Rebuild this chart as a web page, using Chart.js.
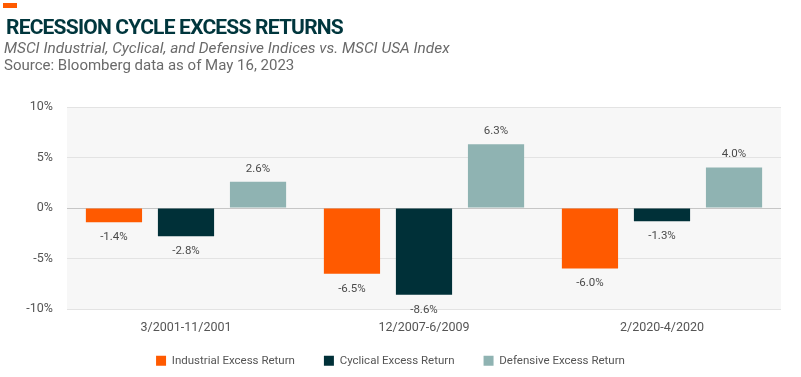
<!DOCTYPE html>
<html>
<head>
<meta charset="utf-8">
<script src="https://cdn.jsdelivr.net/npm/chart.js@4/dist/chart.umd.min.js"></script>
<style>
    body { margin: 0; background: #fff; font-family: Roboto, sans-serif; }
    #wrap { position: relative; width: 801px; height: 377px; overflow: hidden; }
    #mark { position: absolute; left: 3px; top: 3px; width: 14px; height: 5px; background: #ff5a00; }
    #title { position: absolute; left: 6px; top: 15px; font-size: 21px; font-weight: 700; color: #00363d; white-space: nowrap; letter-spacing: -0.8px; }
    #sub { position: absolute; left: 4px; top: 39px; font-size: 15.4px; font-style: italic; color: #6a6a6a; white-space: nowrap; }
    #src { position: absolute; left: 4px; top: 56px; font-size: 15px; color: #6a6a6a; white-space: nowrap; }
    canvas { position: absolute; left: 0; top: 0; }
</style>
</head>
<body>
<div id="wrap">
    <canvas id="chart" width="801" height="377"></canvas>
    <div id="mark"></div>
    <div id="title">RECESSION CYCLE EXCESS RETURNS</div>
    <div id="sub">MSCI Industrial, Cyclical, and Defensive Indices vs. MSCI USA Index</div>
    <div id="src">Source: Bloomberg data as of May 16, 2023</div>
</div>
<script>
const periods = ['3/2001-11/2001', '12/2007-6/2009', '2/2020-4/2020'];
const industrial = [-1.4, -6.5, -6.0];
const cyclical = [-2.8, -8.6, -1.3];
const defensive = [2.6, 6.3, 4.0];
const yTicks = [-10, -5, 0, 5, 10];

const plotBg = {
    id: 'plotBg',
    beforeDraw(chart) {
        const { ctx, chartArea: a } = chart;
        ctx.save();
        ctx.fillStyle = '#f7f7f7';
        ctx.fillRect(a.left, a.top, a.right - a.left, a.bottom - a.top);
        ctx.restore();
    }
};

// keep the legend's wide item spacing without its tall box
const legendFit = {
    id: 'legendFit',
    beforeInit(chart) {
        const lg = chart.legend;
        const fit = lg.fit;
        lg.fit = function () {
            fit.call(this);
            this.height = 38;
        };
    },
    afterLayout(chart) {
        chart.legend.top = 326;
        chart.legend.bottom = 377;
    }
};

// value labels above / below each bar
const barLabels = {
    id: 'barLabels',
    afterDatasetsDraw(chart) {
        const ctx = chart.ctx;
        ctx.save();
        ctx.font = '11.5px Roboto';
        ctx.fillStyle = '#4a4a4a';
        ctx.textAlign = 'center';
        ctx.textBaseline = 'middle';
        chart.data.datasets.forEach((ds, i) => {
            chart.getDatasetMeta(i).data.forEach((bar, j) => {
                const v = ds.data[j];
                const y = v >= 0 ? bar.y - 13 : bar.y + 15;
                ctx.fillText(v.toFixed(1) + '%', bar.x, y);
            });
        });
        ctx.restore();
    }
};

new Chart(document.getElementById('chart'), {
    type: 'bar',
    data: {
        labels: periods,
        datasets: [
            { label: 'Industrial Excess Return', data: industrial, backgroundColor: '#ff5a00' },
            { label: 'Cyclical Excess Return', data: cyclical, backgroundColor: '#003038' },
            { label: 'Defensive Excess Return', data: defensive, backgroundColor: '#8fb3b2' }
        ]
    },
    options: {
        responsive: false,
        animation: false,
        layout: { padding: { top: 107, right: 20, left: 0, bottom: 0 } },
        datasets: { bar: { categoryPercentage: 0.908, barPercentage: 0.78 } },
        plugins: {
            legend: {
                position: 'bottom',
                labels: {
                    boxWidth: 10,
                    boxHeight: 10,
                    padding: 29,
                    color: '#555',
                    font: { family: 'Roboto', size: 11.5 }
                }
            },
            tooltip: { enabled: false }
        },
        scales: {
            x: {
                afterFit(scale) { scale.height = 30; },
                grid: { display: false, drawTicks: false },
                border: { display: false },
                ticks: { color: '#555', font: { family: 'Roboto', size: 12.5 }, padding: 11 }
            },
            y: {
                min: -10,
                max: 10,
                afterFit(scale) { scale.width = 67; },
                afterBuildTicks(scale) { scale.ticks = yTicks.map(v => ({ value: v })); },
                border: { display: false },
                grid: {
                    drawTicks: false,
                    color: c => c.tick.value === 0 ? '#c6c6c6' : '#e3e3e3'
                },
                ticks: {
                    color: '#555',
                    padding: 14,
                    font: { family: 'Roboto', size: 12.5 },
                    callback: v => v + '%'
                }
            }
        }
    },
    plugins: [plotBg, legendFit, barLabels]
});
</script>
</body>
</html>
